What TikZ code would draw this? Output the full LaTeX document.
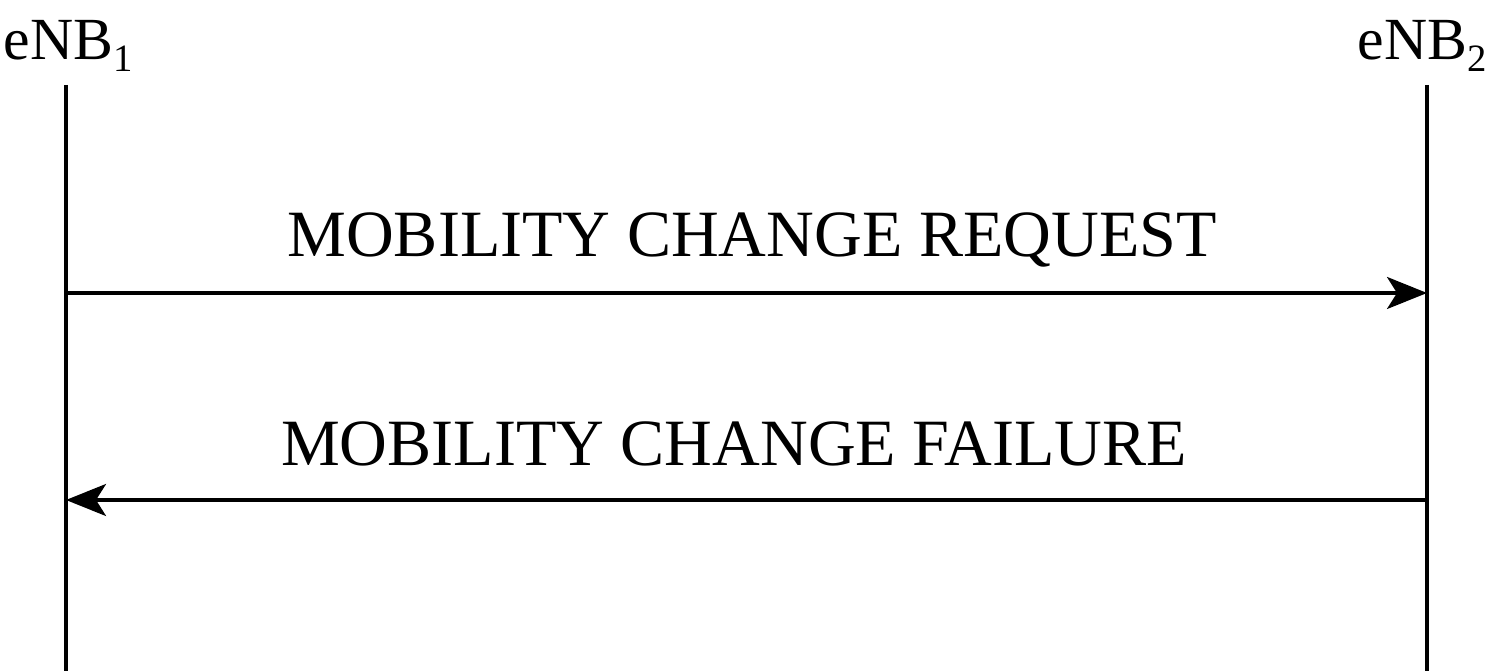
\documentclass[tikz,border=0pt]{standalone}
\usepackage{fontspec}
\setmainfont{Liberation Serif}
\usetikzlibrary{arrows.meta}
\newcommand{\mysub}[1]{\raisebox{-0.2em}{\fontsize{11pt}{12pt}\selectfont #1}}
\begin{document}
\begin{tikzpicture}[x=0.01cm,y=-0.01cm,
  life/.style={line width=0.032cm},
  msg/.style={line width=0.032cm,-{Stealth[length=0.4cm,width=0.32cm,inset=0.1cm]}},
  lbl/.style={inner sep=0,anchor=base,font=\fontsize{18.8pt}{22pt}\selectfont},
  ent/.style={inner sep=0,anchor=base west,font=\fontsize{17pt}{20pt}\selectfont}]
\useasboundingbox (0,0) rectangle (1498,671);
\node[ent] (e1) at (3,60) {eNB\mysub{1}};
\node[ent] (e2) at (1357,60) {eNB\mysub{2}};
\coordinate (t1) at (66,85);
\coordinate (b1) at (66,671);
\coordinate (t2) at (1427,85);
\coordinate (b2) at (1427,671);
\draw[life] (t1) -- (b1);
\draw[life] (t2) -- (b2);
\coordinate (r1) at (66,293);
\coordinate (r2) at (1427,293);
\coordinate (f1) at (66,500);
\coordinate (f2) at (1427,500);
\draw[msg] (r1) -- (r2);
\draw[msg] (f2) -- (f1);
\node[lbl] (m1) at (752,257) {MOBILITY CHANGE REQUEST};
\node[lbl] (m2) at (734,466) {MOBILITY CHANGE FAILURE};
\end{tikzpicture}
\end{document}
